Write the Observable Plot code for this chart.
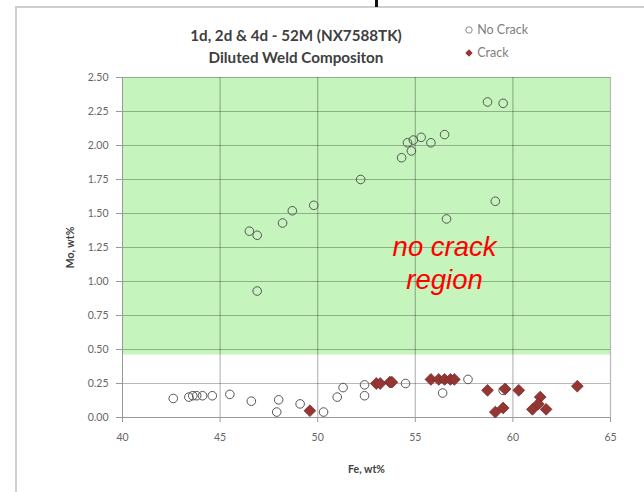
<!DOCTYPE html>
<html>
<head>
<meta charset="utf-8">
<script src="https://cdn.jsdelivr.net/npm/d3@7"></script>
<script src="https://cdn.jsdelivr.net/npm/@observablehq/plot@0.6"></script>
<style>
  html, body { margin: 0; padding: 0; background: #fff; width: 644px; height: 492px; overflow: hidden; }
  body { position: relative; font-family: Lato, "Open Sans", sans-serif; }
  #chart { position: absolute; left: 0; top: 0; }
  .frameTop { position: absolute; left: 15px; top: 6px; width: 629px; height: 2px; background: #cfcfcf; }
  .frameLeft { position: absolute; left: 15px; top: 6px; width: 2px; height: 486px; background: #cfcfcf; }
  .mark { position: absolute; left: 375px; top: 0; width: 3px; height: 7px; background: #111; }
  .title { position: absolute; left: 146px; width: 300px; text-align: center; font-weight: bold; font-size: 15.2px; color: #404040; line-height: 18px; }
  .legend { position: absolute; left: 464px; font-size: 12.5px; color: #808080; line-height: 15px; }
  #chart svg g[aria-label="x-axis label"] text, #chart svg g[aria-label="y-axis label"] text { font-weight: bold; fill: #404040; font-size: 10.5px; }
</style>
</head>
<body>
<div class="frameTop"></div>
<div class="frameLeft"></div>
<div class="mark"></div>
<div id="chart"></div>
<div class="title" style="top:26px">1d, 2d &amp; 4d - 52M (NX7588TK)</div>
<div class="title" style="top:48px">Diluted Weld Compositon</div>
<div class="legend" style="top:22px"><svg width="10" height="10" style="vertical-align:-1px"><circle cx="5" cy="5" r="3.2" fill="none" stroke="#808080" stroke-width="0.9"/></svg> No Crack</div>
<div class="legend" style="top:45px"><svg width="10" height="10" style="vertical-align:-1px"><path d="M5 1.3 L8.7 5 L5 8.7 L1.3 5 Z" fill="#943634"/></svg> Crack</div>
<script>
// Data
const noCrackFe = [46.5, 46.9, 46.9, 48.2, 48.7, 49.8, 52.2, 54.3, 54.6, 54.8, 54.9, 55.3, 55.8, 56.5, 56.6, 58.7, 59.5, 59.1,
                   42.6, 43.4, 43.6, 43.8, 44.1, 44.6, 45.5, 46.6, 48.0, 47.9, 49.1, 50.3, 51.0, 51.3, 52.4, 52.4, 54.5, 56.4, 57.7, 59.5];
const noCrackMo = [1.37, 1.34, 0.93, 1.43, 1.52, 1.56, 1.75, 1.91, 2.02, 1.96, 2.04, 2.06, 2.02, 2.08, 1.46, 2.32, 2.31, 1.59,
                   0.14, 0.15, 0.16, 0.16, 0.16, 0.16, 0.17, 0.12, 0.13, 0.04, 0.10, 0.04, 0.15, 0.22, 0.16, 0.24, 0.25, 0.18, 0.28, 0.20];
const crackFe = [49.6, 53.0, 53.2, 53.7, 53.8, 55.8, 56.2, 56.5, 56.8, 57.0, 58.7, 59.6, 60.3, 59.1, 59.5, 61.4, 61.3, 61.0, 61.7, 63.3];
const crackMo = [0.05, 0.25, 0.25, 0.26, 0.26, 0.28, 0.28, 0.28, 0.28, 0.28, 0.20, 0.21, 0.20, 0.04, 0.07, 0.15, 0.10, 0.06, 0.06, 0.23];
const xTicks = [40, 45, 50, 55, 60, 65];
const yTicks = [0, 0.25, 0.5, 0.75, 1.0, 1.25, 1.5, 1.75, 2.0, 2.25, 2.5];
const region = [{x1: 40, x2: 65, y1: 0.46, y2: 2.5}];
const regionLabel = [{x: 56.5, y: 1.145, text: "no crack\nregion"}];

const noCrack = noCrackFe.map((fe, i) => ({fe, mo: noCrackMo[i]}));
const crack = crackFe.map((fe, i) => ({fe, mo: crackMo[i]}));

const chart = Plot.plot({
  width: 644,
  height: 492,
  marginLeft: 122,
  marginRight: 34,
  marginTop: 77,
  marginBottom: 75,
  style: {fontFamily: "Lato, 'Open Sans', sans-serif", fontSize: "10.5px", color: "#666", background: "transparent"},
  x: {domain: [40, 65]},
  y: {domain: [0, 2.5]},
  marks: [
    Plot.rect(region, {x1: "x1", x2: "x2", y1: "y1", y2: "y2", fill: "#c5f4bd"}),
    Plot.ruleX(xTicks.slice(1), {stroke: "#000", strokeOpacity: 0.28, strokeWidth: 1.2}),
    Plot.ruleY(yTicks.slice(1), {stroke: "#000", strokeOpacity: 0.28, strokeWidth: 1.2}),
    Plot.ruleX([40], {stroke: "#999"}),
    Plot.ruleY([0], {stroke: "#999"}),
    Plot.axisX({ticks: xTicks, tickFormat: d => d.toFixed(0), tickSize: 5, tickPadding: 11, stroke: "#999", color: "#666",
                label: "Fe, wt%", labelAnchor: "center", labelArrow: "none", labelOffset: 55}),
    Plot.axisY({ticks: yTicks, tickFormat: d => d.toFixed(2), tickSize: 6, tickPadding: 8, stroke: "#999", color: "#666",
                label: "Mo, wt%", labelAnchor: "center", labelArrow: "none", labelOffset: 56}),
    Plot.dot(noCrack, {x: "fe", y: "mo", symbol: "circle", r: 4.3, stroke: "#555", strokeWidth: 1, fill: "none"}),
    Plot.dot(crack, {x: "fe", y: "mo", symbol: "diamond2", r: 5.3, fill: "#943634", stroke: "#7a2c2a", strokeWidth: 0.8}),
    Plot.text(regionLabel, {x: "x", y: "y", text: "text", fill: "#ff0000", fontSize: 27.5, fontStyle: "italic", fontFamily: "'Liberation Sans', Arial, sans-serif", lineHeight: 1.22, textAnchor: "middle"})
  ]
});
document.getElementById("chart").appendChild(chart);
</script>
</body>
</html>
